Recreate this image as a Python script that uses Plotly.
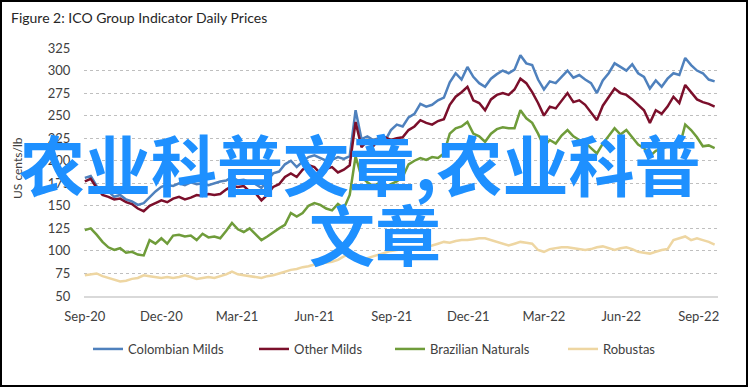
import pandas as pd
import plotly.graph_objects as go

# Weekly observations starting 1 Sep 2020
dates = pd.date_range("2020-09-01", periods=108, freq="7D")

colombian_milds = [181, 183, 172, 164, 166, 160, 162, 157, 155, 151,
                   153, 160, 166, 171, 173, 172, 175, 173, 176, 174,
                   175, 173, 175, 177, 178, 182, 178, 179, 176, 174,
                   170, 178, 186, 188, 196, 200, 193, 199, 204, 206,
                   203, 200, 201, 204, 202, 205, 256, 224, 227, 223,
                   225, 222, 234, 240, 238, 248, 252, 263, 260, 262,
                   267, 270, 287, 297, 290, 304, 293, 286, 282, 291,
                   296, 300, 297, 301, 317, 308, 306, 290, 279, 288,
                   286, 293, 300, 292, 295, 290, 286, 275, 289, 297,
                   308, 304, 300, 307, 297, 293, 280, 289, 282, 291,
                   297, 295, 314, 306, 300, 297, 290, 288]
other_milds = [177, 180, 170, 162, 160, 157, 158, 154, 152, 147,
               144, 150, 153, 156, 154, 158, 160, 157, 159, 162,
               161, 163, 162, 163, 168, 172, 171, 172, 166, 164,
               156, 162, 171, 174, 182, 186, 182, 190, 195, 193,
               186, 191, 193, 187, 190, 195, 243, 215, 222, 216,
               224, 226, 223, 225, 226, 234, 238, 245, 242, 240,
               244, 246, 262, 271, 276, 282, 267, 264, 256, 268,
               273, 275, 273, 279, 291, 286, 276, 264, 250, 260,
               258, 267, 275, 265, 267, 262, 254, 245, 261, 271,
               280, 275, 273, 268, 262, 256, 242, 256, 252, 260,
               271, 264, 284, 276, 268, 265, 263, 260]
brazilian_naturals = [123, 125, 118, 110, 104, 101, 103, 98, 99, 96,
                      95, 112, 108, 114, 108, 117, 118, 116, 117, 112,
                      119, 115, 116, 114, 122, 131, 124, 121, 125, 118,
                      112, 116, 121, 125, 129, 142, 138, 142, 150, 153,
                      151, 147, 145, 152, 147, 162, 205, 182, 176, 172,
                      175, 171, 174, 177, 182, 196, 200, 203, 201, 204,
                      203, 208, 230, 236, 238, 243, 230, 227, 221, 230,
                      235, 237, 236, 236, 256, 247, 242, 230, 216, 223,
                      219, 228, 234, 227, 223, 220, 214, 208, 219, 227,
                      236, 229, 234, 226, 218, 214, 205, 211, 213, 216,
                      219, 215, 240, 234, 226, 216, 217, 214]
robustas = [73, 74, 75, 72, 70, 68, 66, 67, 69, 70,
            73, 72, 71, 70, 71, 70, 71, 73, 71, 69,
            70, 71, 70, 72, 74, 77, 74, 73, 72, 71,
            70, 72, 73, 75, 77, 79, 80, 82, 83, 85,
            86, 87, 88, 90, 94, 96, 93, 90, 92, 94,
            96, 98, 100, 101, 102, 101, 103, 104, 105, 106,
            108, 110, 109, 111, 112, 112, 113, 114, 114, 112,
            110, 108, 106, 108, 110, 109, 108, 101, 99, 102,
            103, 104, 104, 103, 102, 101, 102, 104, 105, 103,
            101, 103, 104, 102, 99, 98, 97, 99, 101, 102,
            112, 114, 116, 112, 114, 112, 110, 107]

series_names = ["Colombian Milds", "Other Milds", "Brazilian Naturals", "Robustas"]
series_values = [colombian_milds, other_milds, brazilian_naturals, robustas]
series_colors = ["#4F81BD", "#7B0F2B", "#6F9C3A", "#EED6A2"]

tick_dates = ["2020-09-01", "2020-12-01", "2021-03-01", "2021-06-01", "2021-09-01",
              "2021-12-01", "2022-03-01", "2022-06-01", "2022-09-01"]
tick_labels = ["Sep-20", "Dec-20", "Mar-21", "Jun-21", "Sep-21",
               "Dec-21", "Mar-22", "Jun-22", "Sep-22"]

W, H = 748, 387
L, R, T, B = 84, 30, 48, 91
PW, PH = W - L - R, H - T - B


def px(x):
    return (x - L) / PW


def py(y):
    return (H - B - y) / PH


FONT = "Lato, 'Open Sans', sans-serif"

fig = go.Figure()
legend_x = [93, 259, 395, 568]
for i, (name, vals, col) in enumerate(zip(series_names, series_values, series_colors)):
    lg = "legend" if i == 0 else f"legend{i + 1}"
    fig.add_trace(go.Scatter(x=dates, y=vals, name=name, mode="lines",
                             line=dict(color=col, width=2.5), legend=lg))

legend_common = dict(orientation="h", yanchor="middle", xanchor="left",
                     bgcolor="rgba(0,0,0,0)", font=dict(family=FONT, size=13, color="#404040"),
                     itemwidth=30)
layout_legends = {}
for i, lx in enumerate(legend_x):
    key = "legend" if i == 0 else f"legend{i + 1}"
    layout_legends[key] = dict(legend_common, x=px(lx - 5), y=py(349))

fig.update_layout(
    width=W, height=H,
    margin=dict(l=L, r=R, t=T, b=B),
    paper_bgcolor="white", plot_bgcolor="white",
    showlegend=True,
    font=dict(family=FONT, color="#404040"),
    xaxis=dict(type="date", range=["2020-08-31", "2022-09-24"],
               tickvals=tick_dates, ticktext=tick_labels, showgrid=False,
               showline=True, linecolor="#D9D9D9", linewidth=1.5, zeroline=False,
               ticks="outside", ticklen=8, tickcolor="rgba(0,0,0,0)",
               tickfont=dict(family=FONT, size=13, color="#404040")),
    yaxis=dict(range=[50, 325], dtick=25, tick0=50, showgrid=True,
               gridcolor="#BFBFBF", griddash="dot", gridwidth=1, zeroline=False,
               ticks="outside", ticklen=10, tickcolor="rgba(0,0,0,0)",
               tickfont=dict(family=FONT, size=13, color="#404040")),
    **layout_legends,
)

fig.add_annotation(text="Figure 2: ICO Group Indicator Daily Prices", xref="paper", yref="paper",
                   x=px(9), y=py(17), xanchor="left", yanchor="middle", showarrow=False,
                   font=dict(family=FONT, size=14, color="#262626"))
fig.add_annotation(text="US cents/lb", xref="paper", yref="paper", x=px(17), y=py(168),
                   textangle=-90, xanchor="center", yanchor="middle", showarrow=False,
                   font=dict(family=FONT, size=12, color="#404040"))

# Overlaid watermark text
wm_font = dict(family="'Noto Sans CJK SC', sans-serif", size=66, color="#1E90FF", weight="bold")
fig.add_annotation(text="农业科普文章,农业科普", xref="paper", yref="paper", x=px(359), y=py(162),
                   xanchor="center", yanchor="middle", showarrow=False, font=wm_font)
fig.add_annotation(text="文章", xref="paper", yref="paper", x=px(375), y=py(232),
                   xanchor="center", yanchor="middle", showarrow=False, font=wm_font)

# Outer frame
fig.add_shape(type="rect", xref="paper", yref="paper", x0=px(1), x1=px(747), y0=py(386), y1=py(1),
              line=dict(color="black", width=2), fillcolor="rgba(0,0,0,0)", layer="above")

fig.write_html("out.html", config={"displayModeBar": False},
               post_script="document.body.style.margin='0';document.body.style.overflow='hidden';")
